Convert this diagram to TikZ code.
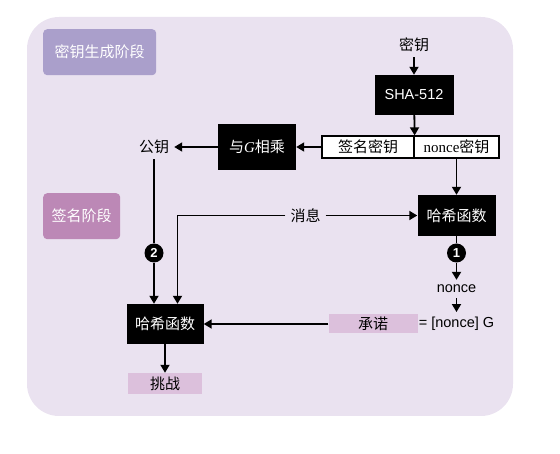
\documentclass[tikz,border=0pt]{standalone}
\usepackage{fontspec}
\setmainfont{Liberation Serif}
\newfontfamily\cjk{Noto Sans CJK SC}
\newfontfamily\helv{Liberation Sans}
\usetikzlibrary{arrows.meta, positioning}
\definecolor{bgpurple}{HTML}{EAE2F0}
\definecolor{genpurple}{HTML}{AA9FCB}
\definecolor{signpurple}{HTML}{BC88B6}
\definecolor{lightmauve}{HTML}{DCC0DC}

\begin{document}
\begin{tikzpicture}[
      x=1pt, y=1pt, on grid,
      phase/.style={fill=#1, rounded corners=4pt, text=white, anchor=north west,
        inner sep=0pt, font=\cjk\fontsize{15}{18}\selectfont},
      blk/.style={fill=black, text=white, minimum width=78pt, minimum height=40pt,
        inner sep=0pt, font=\cjk\fontsize{15}{18}\selectfont},
      cell/.style={draw, line width=1.3pt, fill=white, minimum height=22pt, inner sep=0pt,
        font=\cjk\fontsize{15}{18}\selectfont},
      tag/.style={fill=lightmauve, inner sep=0pt, font=\cjk\fontsize{15}{18}\selectfont},
      lbl/.style={inner sep=5pt, font=\cjk\fontsize{15}{18}\selectfont},
      latin/.style={inner sep=5pt, font=\helv\fontsize{14.5}{17}\selectfont},
      num/.style={circle, fill=black, text=white, minimum size=19pt, inner sep=0pt,
        font=\helv\bfseries\fontsize{13}{13}\selectfont},
      arr/.style={-{Triangle[length=8pt, width=9pt]}, line width=1.8pt},
      ln/.style={line width=1.8pt}
    ]
    \useasboundingbox (0,0) rectangle (560,-454);
    \fill[bgpurple, rounded corners=32pt] (27,-17) rectangle (513,-416);

    \node[phase=genpurple, minimum width=113pt, minimum height=46pt] (genphase) at (43,-29) {密钥生成阶段};
    \node[phase=signpurple, minimum width=77pt, minimum height=46pt] (signphase) at (43,-193) {签名阶段};

    \node[lbl] (key) at (414,-45) {密钥};
    \node[blk, minimum width=79pt, font=\helv\fontsize{14.5}{17}\selectfont, below=50pt of key] (sha) {SHA-512};
    \node[cell, minimum width=92pt, below left=52pt and 46pt of sha] (sigkey) {签名密钥};
    \node[cell, minimum width=85pt, right=88.5pt of sigkey] (noncekey) {{\rmfamily nonce}密钥};
    \node[blk, minimum height=46pt, left=111pt of sigkey] (mult) {与{\rmfamily\itshape G}相乘};
    \node[lbl, left=103pt of mult] (pub) {公钥};
    \node[blk, minimum height=41pt, below=68.5pt of noncekey] (hashR) {哈希函数};
    \node[lbl, left=151pt of hashR] (msg) {消息};
    \node[num, below=37.5pt of hashR] (one) {1};
    \node[latin, below=36pt of one] (nonce) {nonce};
    \node[latin, below=35pt of nonce] (commit) {= [nonce] G};
    \node[tag, minimum width=89pt, minimum height=19pt, left=83.5pt of commit] (commitkey) {承诺};
    \node[blk, minimum width=77pt, left=208pt of commitkey] (hashL) {哈希函数};
    \node[tag, minimum width=74pt, minimum height=21pt, below=59.5pt of hashL] (chal) {挑战};
    \node[num] (two) at (pub |- one) {2};

    \draw[arr] (key) -- (sha);
    \draw[arr] (sha) -- (sigkey.north east);
    \draw[arr] (sigkey) -- (mult);
    \draw[arr] (mult) -- (pub);
    \draw[ln] (pub) -- (two);
    \draw[arr] (two) -- (two |- hashL.north);
    \draw[arr] (msg.west) -| ([xshift=12.5pt]hashL.north);
    \draw[arr] (msg) -- (hashR);
    \draw[arr] (noncekey) -- (hashR);
    \draw[ln] (hashR) -- (one);
    \draw[arr] (one) -- (nonce);
    \draw[arr] (nonce) -- (commit);
    \draw[arr] (commitkey) -- (hashL);
    \draw[arr] (hashL) -- (chal);
  \end{tikzpicture}
\end{document}
